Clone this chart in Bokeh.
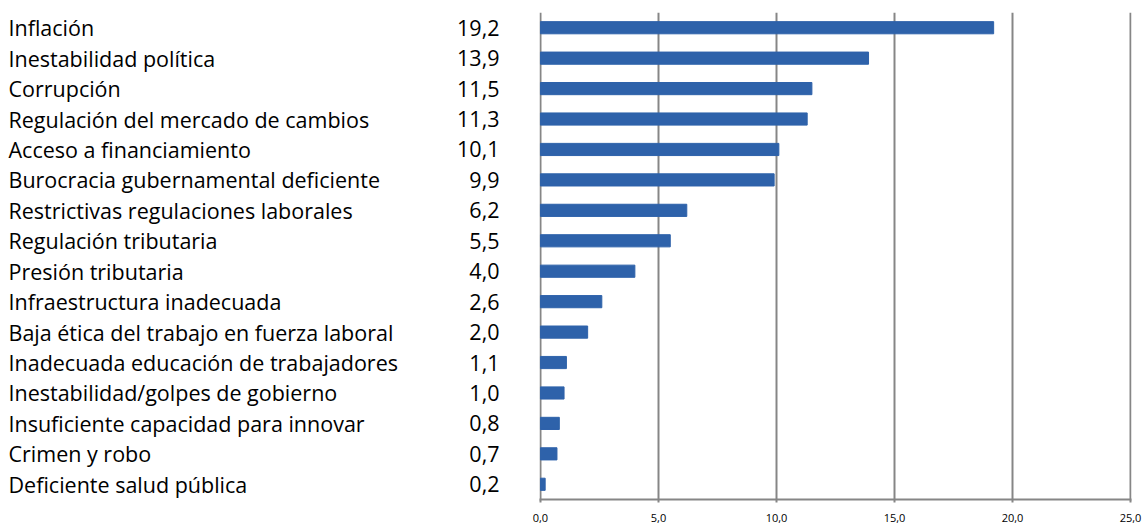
from bokeh.plotting import figure
from bokeh.layouts import row
from bokeh.models import FactorRange, FixedTicker, ColumnDataSource, Range1d
from bokeh.core.properties import value
from bokeh.embed import file_html
from bokeh.resources import INLINE

categories = [
    "Inflación", "Inestabilidad política", "Corrupción",
    "Regulación del mercado de cambios", "Acceso a financiamiento",
    "Burocracia gubernamental deficiente", "Restrictivas regulaciones laborales",
    "Regulación tributaria", "Presión tributaria", "Infraestructura inadecuada",
    "Baja ética del trabajo en fuerza laboral", "Inadecuada educación de trabajadores",
    "Inestabilidad/golpes de gobierno", "Insuficiente capacidad para innovar",
    "Crimen y robo", "Deficiente salud pública",
]
values = [19.2, 13.9, 11.5, 11.3, 10.1, 9.9, 6.2, 5.5, 4.0, 2.6, 2.0, 1.1, 1.0, 0.8, 0.7, 0.2]
x_ticks = [0, 5, 10, 15, 20, 25]
x_tick_labels = ["0,0", "5,0", "10,0", "15,0", "20,0", "25,0"]

value_labels = [f"{v:.1f}".replace(".", ",") for v in values]

src = ColumnDataSource(dict(cat=categories, val=values, lab=value_labels))
yr = FactorRange(factors=list(reversed(categories)), range_padding=0)

H = 525
TOP = 12
BOTTOM = 26
FONT = "Open Sans"
LW = 529
GAP = 10

left = figure(width=LW, height=H, x_range=(0, LW), y_range=yr,
              output_backend="svg", toolbar_location=None,
              min_border_left=0, min_border_right=0,
              min_border_top=TOP, min_border_bottom=BOTTOM)
left.axis.visible = False
left.grid.visible = False
left.outline_line_color = None
left.text(x=8, y="cat", text="cat", source=src, text_font=value(FONT),
          text_font_size="21.5px", text_align="left", text_baseline="middle",
          text_color="#000000")
left.text(x=499, y="cat", text="lab", source=src, text_font=value(FONT),
          text_font_size="21.5px", text_align="right", text_baseline="middle",
          text_color="#000000")

pad = 0.04
right = figure(width=1143 - LW + 1, height=H,
               x_range=Range1d(x_ticks[0] - pad, x_ticks[-1] + pad), y_range=yr,
               output_backend="svg", toolbar_location=None,
               min_border_left=GAP, min_border_right=13,
               min_border_top=TOP, min_border_bottom=BOTTOM)
right.hbar(y="cat", right="val", left=0, height=0.4, source=src,
           color="#2E62AA")
right.outline_line_color = None
right.yaxis.visible = False
right.ygrid.visible = False
right.xgrid.ticker = FixedTicker(ticks=x_ticks)
right.xgrid.grid_line_color = "#868686"
right.xgrid.grid_line_width = 2
right.xaxis.ticker = FixedTicker(ticks=x_ticks)
right.xaxis.major_label_overrides = dict(zip(x_ticks, x_tick_labels))
right.xaxis.axis_line_color = "#868686"
right.xaxis.axis_line_width = 2
right.xaxis.major_tick_line_color = "#868686"
right.xaxis.major_tick_line_width = 2
right.xaxis.major_tick_in = 0
right.xaxis.major_tick_out = 3
right.xaxis.minor_tick_line_color = None
right.xaxis.major_label_text_font = FONT
right.xaxis.major_label_text_font_size = "11px"
right.xaxis.major_label_text_color = "#000000"
right.xaxis.major_label_standoff = 11

layout = row(left, right, spacing=0)
open("out.html", "w").write(file_html(layout, INLINE))
